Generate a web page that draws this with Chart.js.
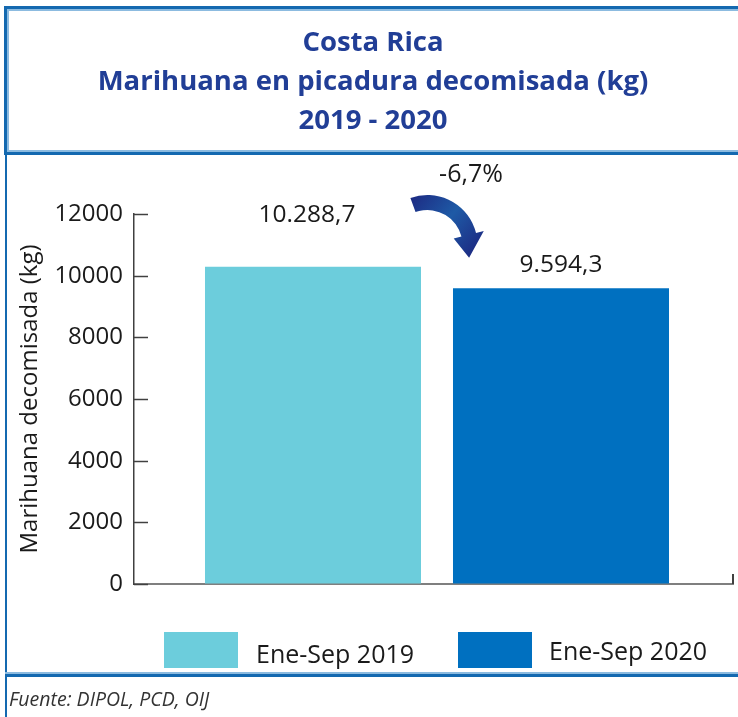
<!DOCTYPE html>
<html>
<head>
<meta charset="utf-8">
<script src="https://cdn.jsdelivr.net/npm/chart.js@4"></script>
<style>
  html, body { margin: 0; padding: 0; background: #fff; }
  #wrap { position: relative; width: 738px; height: 717px; overflow: hidden; background: #fff; }
  #chart { position: absolute; left: 0; top: 0; }
  .ln { position: absolute; }
  #title { position: absolute; left: 4px; top: 21px; width: 738px; text-align: center;
           font-family: "Open Sans", sans-serif; font-weight: 700; font-size: 27.5px; line-height: 39px; color: #213e96; }
  #foot { position: absolute; left: 9px; top: 685px; font-family: "Open Sans", sans-serif; font-style: italic;
          font-size: 19.5px; color: #333; }
</style>
</head>
<body>
<div id="wrap">
  <canvas id="chart" width="738" height="717"></canvas>
  <!-- frame -->
  <div class="ln" style="left:4px;top:6px;width:734px;height:3px;background:#1469b0"></div>
  <div class="ln" style="left:7px;top:9px;width:731px;height:2px;background:#8cbbe0"></div>
  <div class="ln" style="left:4px;top:6px;width:3px;height:149px;background:#1469b0"></div>
  <div class="ln" style="left:7px;top:9px;width:2px;height:141px;background:#8cbbe0"></div>
  <div class="ln" style="left:7px;top:150px;width:731px;height:2px;background:#8cbbe0"></div>
  <div class="ln" style="left:4px;top:152px;width:734px;height:3px;background:#1469b0"></div>
  <div class="ln" style="left:5px;top:155px;width:2px;height:562px;background:#1469b0"></div>
  <div class="ln" style="left:5px;top:672px;width:733px;height:2px;background:#8cbbe0"></div>
  <div class="ln" style="left:5px;top:674px;width:733px;height:3px;background:#1469b0"></div>
  <div id="title">Costa Rica<br>Marihuana en picadura decomisada (kg)<br>2019 - 2020</div>
  <div id="foot">Fuente: DIPOL, PCD, OIJ</div>
</div>
<script>
// ---- data ----
const periods = ['Ene-Sep 2019', 'Ene-Sep 2020'];
const periodIndex = [0, 1];
const seizedKg = [10288.7, 9594.3];
const valueLabels = ['10.288,7', '9.594,3'];
const changeLabel = '-6,7%';
const yTickValues = [0, 2000, 4000, 6000, 8000, 10000, 12000];
const yTickLabels = ['0', '2000', '4000', '6000', '8000', '10000', '12000'];
const barColors = ['#6ccddc', '#0070c0'];
const yAxisTitle = 'Marihuana decomisada (kg)';

const FONT = '"Open Sans", sans-serif';

const datasets = periods.map((p, i) => ({
  label: p,
  data: [{ x: periodIndex[i], y: seizedKg[i] }],
  backgroundColor: barColors[i],
  borderWidth: 0,
  grouped: false
}));

// inward tick marks + x-axis end tick
const tickPlugin = {
  id: 'inTicks',
  afterDraw(chart) {
    const ctx = chart.ctx, y = chart.scales.y, ca = chart.chartArea;
    ctx.save();
    ctx.strokeStyle = '#404040';
    ctx.lineWidth = 1.5;
    yTickValues.forEach(v => {
      const py = Math.round(y.getPixelForValue(v)) + 0.5;
      ctx.beginPath();
      ctx.moveTo(ca.left, py);
      ctx.lineTo(ca.left + 14, py);
      ctx.stroke();
    });
    ctx.lineWidth = 2;
    ctx.beginPath();
    ctx.moveTo(ca.right, ca.bottom);
    ctx.lineTo(ca.right, ca.bottom - 10);
    ctx.stroke();
    ctx.restore();
  }
};

// value labels, change label and curved arrow
const annotPlugin = {
  id: 'annot',
  afterDatasetsDraw(chart, args, opts) {
    const ctx = chart.ctx;
    const bars = chart.data.datasets.map((d, i) => chart.getDatasetMeta(i).data[0]);
    ctx.save();
    ctx.fillStyle = '#1a1a1a';
    ctx.font = '24.5px ' + FONT;
    ctx.textAlign = 'center';
    ctx.textBaseline = 'middle';
    bars.forEach((b, i) => {
      const o = opts.offsets[i];
      ctx.fillText(valueLabels[i], b.x + o.dx, b.y - o.dy);
    });
    // change label
    const ca = chart.chartArea;
    ctx.font = '25px ' + FONT;
    ctx.fillText(changeLabel, bars[1].x - 90, ca.top - 39);

    // curved arrow
    const ax = bars[1].x - 133.5, ay = ca.top + 31;
    const rO = 50, rI = 35;
    const a0 = -110 * Math.PI / 180, a1 = -14 * Math.PI / 180;
    const grad = ctx.createLinearGradient(ax - 10, ay - 50, ax + 50, ay);
    grad.addColorStop(0, '#1d2f86');
    grad.addColorStop(0.5, '#1e5aa6');
    grad.addColorStop(1, '#1d2f86');
    ctx.fillStyle = grad;
    ctx.beginPath();
    ctx.arc(ax, ay, rO, a0, a1, false);
    const rm = (rO + rI) / 2;
    const pOut = [ax + (rO + 8) * Math.cos(a1), ay + (rO + 8) * Math.sin(a1)];
    const pIn = [ax + (rI - 8) * Math.cos(a1), ay + (rI - 8) * Math.sin(a1)];
    const at = a1 + 0.45;
    const tip = [ax + rm * Math.cos(at), ay + rm * Math.sin(at) + 4];
    ctx.lineTo(pOut[0], pOut[1]);
    ctx.lineTo(tip[0], tip[1]);
    ctx.lineTo(pIn[0], pIn[1]);
    ctx.arc(ax, ay, rI, a1, a0, true);
    ctx.closePath();
    ctx.fill();
    ctx.restore();
  }
};

// custom legend
const legendPlugin = {
  id: 'customLegend',
  afterDraw(chart, args, opts) {
    const ctx = chart.ctx;
    ctx.save();
    ctx.font = '25px ' + FONT;
    ctx.textAlign = 'left';
    ctx.textBaseline = 'alphabetic';
    chart.data.datasets.forEach((d, i) => {
      const it = opts.items[i];
      ctx.fillStyle = d.backgroundColor;
      ctx.fillRect(it.bx, it.by, 74, 36);
      ctx.fillStyle = '#1a1a1a';
      ctx.fillText(d.label, it.tx, it.ty);
    });
    ctx.restore();
  }
};

new Chart(document.getElementById('chart'), {
  type: 'bar',
  data: { datasets },
  plugins: [tickPlugin, annotPlugin, legendPlugin],
  options: {
    responsive: false,
    animation: false,
    layout: { padding: { left: 0, right: 5, top: 214, bottom: 133 } },
    datasets: { bar: { categoryPercentage: 1, barPercentage: 0.871 } },
    plugins: {
      legend: { display: false },
      tooltip: { enabled: false },
      title: { display: false },
      annot: { offsets: [{ dx: -6, dy: 52 }, { dx: 0, dy: 23 }] },
      customLegend: { items: [
        { bx: 164, by: 632, tx: 256, ty: 663 },
        { bx: 458, by: 632, tx: 549, ty: 660 }
      ] }
    },
    scales: {
      x: {
        type: 'linear',
        min: -0.72177, max: 1.69355,
        offset: false,
        afterBuildTicks(s) { s.ticks = periodIndex.map(v => ({ value: v })); },
        ticks: { display: false },
        grid: { display: false, drawTicks: false },
        border: { display: true, color: '#7f7f7f', width: 2 },
        afterFit(s) { s.height = 0; }
      },
      y: {
        min: 0, max: 12000,
        afterBuildTicks(s) { s.ticks = yTickValues.map(v => ({ value: v })); },
        ticks: {
          font: { family: FONT, size: 24 }, color: '#1a1a1a', padding: 11,
          callback: (v) => yTickLabels[yTickValues.indexOf(v)]
        },
        grid: { drawOnChartArea: false, drawTicks: false },
        border: { display: true, color: '#404040', width: 1.5 },
        title: { display: true, text: yAxisTitle, font: { family: FONT, size: 24 }, color: '#1a1a1a',
                 padding: { top: 16, bottom: 0 } },
        afterFit(s) { s.width = 134; }
      }
    }
  }
});
</script>
</body>
</html>
